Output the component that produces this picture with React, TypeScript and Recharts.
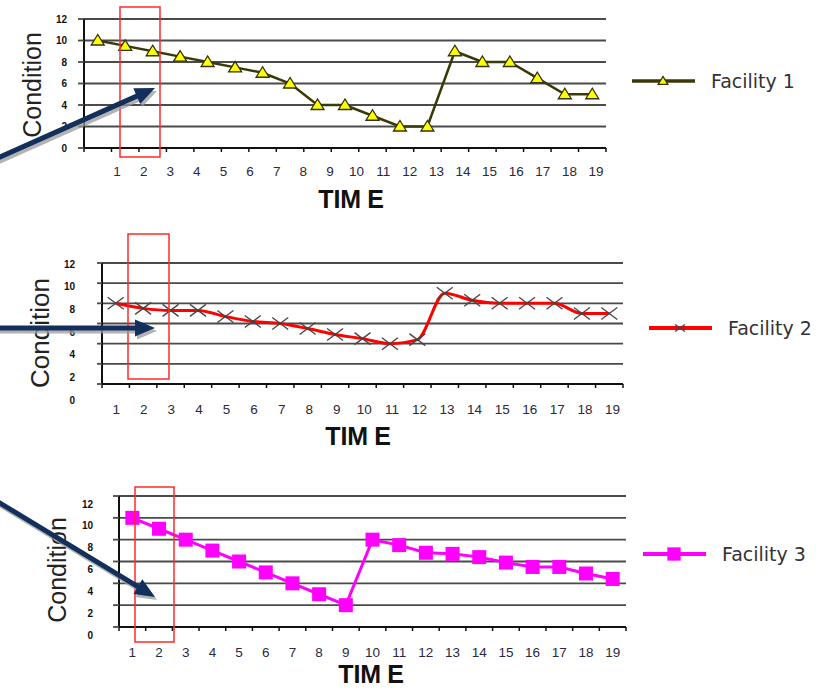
import React from 'react';
import { LineChart, Line, XAxis, YAxis, CartesianGrid, Legend, Label } from 'recharts';

const timeLabels = ['1','2','3','4','5','6','7','8','9','10','11','12','13','14','15','16','17','18','19'];
const timeValues = [1,2,3,4,5,6,7,8,9,10,11,12,13,14,15,16,17,18,19];
const facility1 = [10, 9.5, 9, 8.5, 8, 7.5, 7, 6, 4, 4, 3, 2, 2, 9, 8, 8, 6.5, 5, 5];
const facility2 = [8, 7.5, 7.3, 7.3, 6.7, 6.2, 6, 5.5, 4.9, 4.5, 4, 4.4, 9, 8.3, 8, 8, 8, 7, 7];
const facility3 = [10, 9, 8, 7, 6, 5, 4, 3, 2, 8, 7.5, 6.8, 6.7, 6.4, 5.9, 5.5, 5.5, 4.9, 4.4];
const yTicks = [0, 2, 4, 6, 8, 10, 12];
const xBoundaries = [0.5,1.5,2.5,3.5,4.5,5.5,6.5,7.5,8.5,9.5,10.5,11.5,12.5,13.5,14.5,15.5,16.5,17.5,18.5,19.5];
const seriesNames = ['Facility 1', 'Facility 2', 'Facility 3'];

const data = timeValues.map((t, i) => ({ t, f1: facility1[i], f2: facility2[i], f3: facility3[i] }));

const FONT = 'Arial, "Liberation Sans", sans-serif';
const W = 825;

const Triangle = ({ cx, cy, s = 1 }: any) => (
  <polygon
    points={`${cx},${cy - 6 * s} ${cx - 6.5 * s},${cy + 4.5 * s} ${cx + 6.5 * s},${cy + 4.5 * s}`}
    fill="#ffff00" stroke="#33330a" strokeWidth={1.3}
  />
);
const Cross = ({ cx, cy, s = 1 }: any) => (
  <g stroke="#444" strokeWidth={1.3}>
    <line x1={cx - 8 * s} y1={cy - 6 * s} x2={cx + 8 * s} y2={cy + 6 * s} />
    <line x1={cx - 8 * s} y1={cy + 6 * s} x2={cx + 8 * s} y2={cy - 6 * s} />
  </g>
);
const Square = ({ cx, cy, s = 1 }: any) => (
  <rect x={cx - 7 * s} y={cy - 7 * s} width={14 * s} height={14 * s} fill="#ff00ff" />
);

type Cfg = {
  top: number; height: number; yW: number; mTop: number; mRight: number; mBottom: number;
  key: string; name: string; color: string; width: number; type: any; Marker: any;
  yLabelRight: number; yDy: (v: number) => number; yTickSize: number;
  xDx: (i: number) => number; xBaseline: number;
  condX: number; condY: number; condSize: number; timeX: number; timeY: number;
  legLeft: number; legTop: number; legW: number; legMarkerScale: number;
};

const charts: Cfg[] = [
  {
    top: 0, height: 225, yW: 84, mTop: 19, mRight: 219, mBottom: 47,
    key: 'f1', name: seriesNames[0], color: '#3a3a08', width: 2.5, type: 'linear', Marker: Triangle,
    yLabelRight: 67, yDy: () => 0, yTickSize: 6,
    xDx: (i) => 19.3 - 0.86 * i, xBaseline: 175.5,
    condX: 41, condY: 85, condSize: 25, timeX: 351, timeY: 208,
    legLeft: 625, legTop: 66, legW: 195, legMarkerScale: 0.75,
  },
  {
    top: 230, height: 225, yW: 102, mTop: 33, mRight: 202, mBottom: 41,
    key: 'f2', name: seriesNames[1], color: '#ff0000', width: 3, type: 'monotone', Marker: Cross,
    yLabelRight: 75, yDy: (v) => (12 - v) * 1.25 + 1, yTickSize: 5,
    xDx: (i) => 0.5 + 0.15 * i, xBaseline: 184,
    condX: 49, condY: 103, condSize: 26, timeX: 358, timeY: 215,
    legLeft: 642, legTop: 83, legW: 183, legMarkerScale: 0.6,
  },
  {
    top: 470, height: 218, yW: 119, mTop: 26, mRight: 199, mBottom: 31,
    key: 'f3', name: seriesNames[2], color: '#ff00ff', width: 3, type: 'linear', Marker: Square,
    yLabelRight: 93, yDy: () => 8, yTickSize: 6,
    xDx: () => 0, xBaseline: 186.5,
    condX: 66, condY: 100, condSize: 25, timeX: 371, timeY: 213,
    legLeft: 636, legTop: 69, legW: 189, legMarkerScale: 0.95,
  },
];

function FacilityChart({ c }: { c: Cfg }) {
  const plotW = W - c.yW - c.mRight;
  const step = plotW / 19;
  const XTick = (p: any) => {
    const v = p.payload.value;
    const idx = Math.round(v - 0.5);
    if (idx < 0 || idx >= timeLabels.length) return <g />;
    return (
      <text x={p.x + step / 2 + c.xDx(idx)} y={c.xBaseline} textAnchor="middle"
        fontFamily={FONT} fontSize={13.5} fill="#2b2840">{timeLabels[idx]}</text>
    );
  };
  const YTick = (p: any) => (
    <text x={c.yLabelRight} y={p.y + 3.5 + c.yDy(p.payload.value)} textAnchor="end"
      fontFamily={FONT} fontSize={10} fontWeight="bold" fill="#111">{p.payload.value}</text>
  );
  const Marker = c.Marker;
  return (
    <div style={{ position: 'absolute', left: 0, top: c.top }}>
      <LineChart width={W} height={c.height} data={data}
        margin={{ top: c.mTop, right: c.mRight, bottom: c.mBottom, left: 0 }}>
        <CartesianGrid vertical={false} stroke="#4a4a4a" strokeWidth={1.8} />
        <XAxis type="number" dataKey="t" domain={[0.5, 19.5]} ticks={xBoundaries} interval={0}
          height={30} tickSize={4} tickLine={{ stroke: '#111', strokeWidth: 1.5 }}
          axisLine={{ stroke: '#111', strokeWidth: 2 }} tick={XTick} allowDataOverflow>
          <Label content={() => (
            <text x={c.timeX} y={c.timeY} textAnchor="middle" fontFamily={FONT} fontSize={25}
              fontWeight="bold" fill="#111">TIM<tspan dx="6">E</tspan></text>
          )} />
        </XAxis>
        <YAxis domain={[0, 12]} ticks={yTicks} width={c.yW} tickSize={c.yTickSize}
          tickLine={{ stroke: '#4a4a4a', strokeWidth: 1.8 }} axisLine={{ stroke: '#111', strokeWidth: 2 }}
          tick={YTick} interval={0}>
          <Label content={() => (
            <text x={c.condX} y={c.condY} transform={`rotate(-90, ${c.condX}, ${c.condY})`}
              textAnchor="middle" fontFamily={FONT} fontSize={c.condSize} fill="#222">Condition</text>
          )} />
        </YAxis>
        <YAxis yAxisId="right" orientation="right" width={0} domain={[0, 12]} tick={false}
          tickLine={false} axisLine={{ stroke: '#111', strokeWidth: 2 }} />
        <Legend verticalAlign="middle" align="center" layout="horizontal"
          wrapperStyle={{ position: 'absolute', left: c.legLeft, top: c.legTop, width: c.legW, height: 30 }}
          content={() => (
            <svg width={c.legW} height={30} style={{ overflow: 'hidden', display: 'block' }}>
              <line x1={7} y1={15} x2={70} y2={15} stroke={c.color} strokeWidth={c.width + 1} />
              <Marker cx={38} cy={15} s={c.legMarkerScale} />
              <text x={86} y={21.5} fontFamily='"DejaVu Sans", Verdana, sans-serif' fontSize={19} fill="#333">{c.name}</text>
            </svg>
          )} />
        <Line type={c.type} dataKey={c.key} name={c.name} stroke={c.color} strokeWidth={c.width}
          isAnimationActive={false}
          dot={(p: any) => <Marker key={p.index} cx={p.cx} cy={p.cy} />}
          activeDot={false} />
      </LineChart>
    </div>
  );
}

function arrowPoints(x1: number, y1: number, x2: number, y2: number, shaft = 5, headLen = 20, headW = 17) {
  const dx = x2 - x1, dy = y2 - y1;
  const len = Math.hypot(dx, dy);
  const ux = dx / len, uy = dy / len;
  const nx = -uy, ny = ux;
  const bx = x2 - ux * headLen, by = y2 - uy * headLen;
  const pts = [
    [x1 + nx * shaft / 2, y1 + ny * shaft / 2],
    [bx + nx * shaft / 2, by + ny * shaft / 2],
    [bx + nx * headW / 2, by + ny * headW / 2],
    [x2, y2],
    [bx - nx * headW / 2, by - ny * headW / 2],
    [bx - nx * shaft / 2, by - ny * shaft / 2],
    [x1 - nx * shaft / 2, y1 - ny * shaft / 2],
  ];
  return pts.map((p) => p.join(',')).join(' ');
}

const arrows = [
  [-10, 161.5, 155, 88],
  [-10, 328, 155, 328],
  [-10, 497, 155, 597],
];
const boxes = [
  [120, 7, 40, 150],
  [128, 234, 41, 145],
  [135, 487, 39, 155],
];

export default function App() {
  return (
    <div style={{ position: 'absolute', left: 0, top: 0, width: W, height: 688, overflow: 'hidden', background: '#fff' }}>
      {charts.map((c, i) => <FacilityChart key={i} c={c} />)}
      <svg width={W} height={688} style={{ position: 'absolute', left: 0, top: 0, pointerEvents: 'none' }}>
        {boxes.map((b, i) => (
          <rect key={'b' + i} x={b[0]} y={b[1]} width={b[2]} height={b[3]} fill="none" stroke="#ff2a2a" strokeWidth={1.5} />
        ))}
        {arrows.map((a, i) => (
          <g key={'a' + i}>
            <polygon points={arrowPoints(a[0] + 2, a[1] + 3, a[2] + 2, a[3] + 3)} fill="#9a9a9a" opacity={0.75} />
            <polygon points={arrowPoints(a[0], a[1], a[2], a[3])} fill="#13305c" />
          </g>
        ))}
      </svg>
    </div>
  );
}
